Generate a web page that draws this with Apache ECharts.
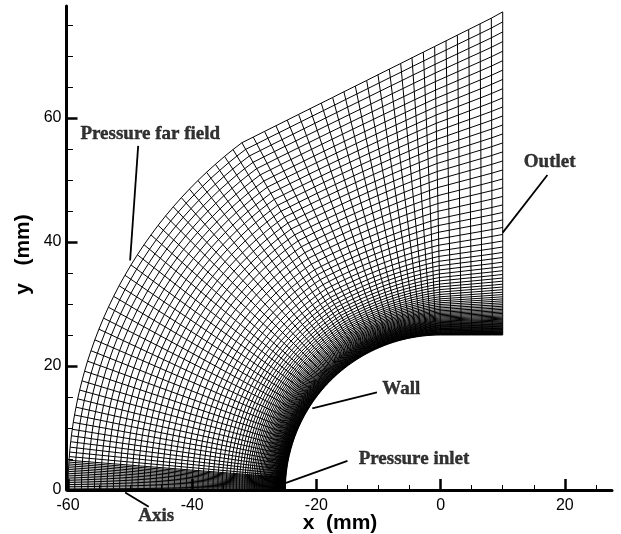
<!DOCTYPE html>
<html><head><meta charset="utf-8">
<style>html,body{margin:0;padding:0;background:#fff}#c{width:621px;height:534px}</style>
<script src="https://cdn.jsdelivr.net/npm/echarts@6/dist/echarts.min.js"></script>
</head><body><div id="c"></div>
<script>
// Mesh stations (mm): far-field / outer boundary end of each radial line
const outerX = [-60,-60,-60,-59.99,-59.99,-59.98,-59.98,-59.97,-59.96,-59.95,-59.94,-59.92,-59.91,-59.89,-59.87,-59.86,-59.84,-59.79,-59.73,-59.66,-59.56,-59.45,-59.31,-59.15,-58.95,-58.71,-58.44,-58.12,-57.75,-57.33,-56.85,-56.3,-55.68,-55.02,-54.28,-53.49,-52.65,-51.77,-50.83,-49.86,-48.83,-47.76,-46.64,-45.49,-44.29,-43.05,-41.75,-40.45,-39.08,-37.69,-36.26,-34.79,-33.43,-32,
 -30.17,-28.35,-26.52,-24.7,-22.87,-21.04,-19.22,-17.39,-15.57,-13.74,-11.91,-10.09,-8.26,-6.43,-4.61,-2.78,-0.96,0.87,2.7,4.52,6.35,8.17,10];
const outerY = [0,0.3,0.6,0.9,1.2,1.5,1.8,2.1,2.4,2.7,3,3.3,3.6,3.9,4.2,4.5,4.8,5.39,6.12,6.91,7.79,8.75,9.79,10.91,12.1,13.36,14.7,16.12,17.6,19.16,20.78,22.46,24.21,25.94,27.72,29.48,31.23,32.94,34.63,36.29,37.93,39.55,41.13,42.68,44.19,45.67,47.14,48.52,49.91,51.24,52.53,53.8,54.9,56,
 56.91,57.83,58.74,59.65,60.57,61.48,62.39,63.3,64.22,65.13,66.04,66.96,67.87,68.78,69.7,70.61,71.52,72.43,73.35,74.26,75.17,76.09,77.1];
// Wall end of each radial line
const wallX = [-25,-25,-25,-25,-25,-24.99,-24.99,-24.98,-24.98,-24.98,-24.97,-24.96,-24.95,-24.95,-24.94,-24.93,-24.92,-24.9,-24.87,-24.83,-24.79,-24.73,-24.67,-24.59,-24.49,-24.38,-24.24,-24.09,-23.91,-23.71,-23.48,-23.22,-22.93,-22.61,-22.26,-21.89,-21.5,-21.09,-20.66,-20.21,-19.74,-19.25,-18.75,-18.23,-17.7,-17.15,-16.58,-16,-15.41,-14.82,-14.2,-13.58,-13,-12.4,
 -11.83,-11.14,-10.45,-9.74,-9.03,-8.31,-7.58,-6.84,-6.1,-5.35,-4.59,-3.83,-3.07,-2.31,-1.54,-0.77,0,1.67,3.33,5,6.67,8.33,10];
const wallY = [0,0.13,0.25,0.38,0.5,0.63,0.75,0.88,1,1.13,1.25,1.38,1.5,1.63,1.75,1.88,2,2.24,2.55,2.88,3.24,3.64,4.07,4.53,5.03,5.55,6.1,6.68,7.29,7.92,8.58,9.26,9.97,10.66,11.37,12.07,12.75,13.42,14.08,14.71,15.34,15.95,16.54,17.11,17.66,18.19,18.71,19.21,19.68,20.14,20.57,20.99,21.35,21.71,
 22.03,22.38,22.71,23.02,23.31,23.58,23.82,24.05,24.24,24.42,24.57,24.7,24.81,24.89,24.95,24.99,25,25,25,25,25,25,25];
// Mesh layer heights read along the outlet (mm above the wall)
const layerHeights = [0,0.08,0.16,0.24,0.32,0.4,0.48,0.58,0.68,0.77,0.87,0.97,1.06,1.16,1.27,1.39,1.5,1.61,1.73,1.85,1.98,2.11,2.24,2.39,2.53,2.69,2.87,3.06,3.26,3.47,3.68,3.9,4.13,4.37,4.63,4.9,5.19,5.5,5.82,6.16,6.52,6.9,7.31,7.74,8.19,8.68,9.19,9.76,10.37,11.03,11.74,12.5,13.31,14.19,15.16,16.21,17.34,18.55,19.76,20.97,22.34,23.74,25.16,26.61,28.06,29.52,30.97,32.42,33.87,35.32,36.77,38.23,39.71,41.21,42.71,44.23,45.76,47.31,48.87,50.48,52.1];

const xTicks = [-60,-40,-20,0,20];
const yTicks = [0,20,40,60];
const xMinor = [-55,-50,-45,-35,-30,-25,-15,-10,-5,5,10,15,25];
const yMinor = [5,10,15,25,30,35,45,50,55,65,70,75];
const xRange = [-60,27.6];
const yRange = [0,78.05];

const noteTexts = ['Pressure far field','Outlet','Wall','Pressure inlet','Axis'];
const noteX = [-58,13.4,-9.4,-13.2,-48.7];
const noteY = [57.4,52.9,16.3,5,-4.2];
const leaderFrom = [[-48.7,55.5],[17.2,50.8],[-10.25,15.76],[-15,4.7],[-50.8,-0.4]];
const leaderTo = [[-50,37],[10,41.5],[-20.66,13.18],[-25,1.1],[-47,-2.7]];

const total = layerHeights[layerHeights.length-1];
const radial = outerX.map((x,i)=>({coords:[[wallX[i],wallY[i]],[x,outerY[i]]]}));
const rings = layerHeights.map(h=>{
  const f=h/total;
  return {coords:outerX.map((x,i)=>[wallX[i]+(x-wallX[i])*f, wallY[i]+(outerY[i]-wallY[i])*f])};
});
const ink='#000';
const fontSans='"Liberation Sans",Arial,sans-serif';
const fontSerif='"Liberation Serif","Times New Roman",serif';

const chart=echarts.init(document.getElementById('c'),null,{renderer:'canvas'});
chart.setOption({
  animation:false,
  backgroundColor:'#fff',
  grid:{left:68,right:9,top:6,bottom:44,containLabel:false,outerBoundsMode:'none'},
  xAxis:{type:'value',min:xRange[0],max:xRange[1],interval:20,
    name:'x  (mm)',nameLocation:'middle',nameGap:23,nameMoveOverlap:false,
    nameTextStyle:{fontFamily:fontSans,fontWeight:'bold',fontSize:21,color:ink},
    axisLine:{show:true,onZero:false,lineStyle:{color:ink,width:3}},
    axisTick:{show:true,inside:true,length:11,customValues:xTicks,lineStyle:{color:ink,width:2.5}},
    axisLabel:{show:true,customValues:xTicks,margin:8,fontFamily:fontSans,fontSize:16,color:ink},
    splitLine:{show:false},minorTick:{show:false},minorSplitLine:{show:false}},
  yAxis:{type:'value',min:yRange[0],max:yRange[1],interval:20,offset:1.5,
    name:'y   (mm)',nameLocation:'middle',nameGap:33,nameMoveOverlap:false,
    nameTextStyle:{fontFamily:fontSans,fontWeight:'bold',fontSize:21,color:ink,padding:[0,13,0,0]},
    axisLine:{show:true,onZero:false,lineStyle:{color:ink,width:3}},
    axisTick:{show:true,inside:true,length:11,customValues:yTicks,lineStyle:{color:ink,width:2.5}},
    axisLabel:{show:true,customValues:yTicks,margin:5,fontFamily:fontSans,fontSize:16,color:ink},
    splitLine:{show:false},minorTick:{show:false},minorSplitLine:{show:false}},
  series:[
    {type:'lines',coordinateSystem:'cartesian2d',polyline:true,silent:true,z:1,
     lineStyle:{color:'#000',width:1,opacity:1},data:radial.concat(rings)},
    {type:'lines',coordinateSystem:'cartesian2d',silent:true,z:3,clip:false,
     lineStyle:{color:ink,width:1.8,opacity:1},
     data:leaderFrom.map((p,i)=>({coords:[p,leaderTo[i]]}))},
    {type:'lines',coordinateSystem:'cartesian2d',silent:true,z:3,clip:false,
     lineStyle:{color:ink,width:1,opacity:1},
     data:xMinor.map(v=>({coords:[[v,0],[v,0.8]]})).concat(yMinor.map(v=>({coords:[[-60,v],[-59.2,v]]})))},
    {type:'scatter',symbolSize:0,silent:true,clip:false,z:4,
     data:noteTexts.map((t,i)=>({value:[noteX[i],noteY[i]],name:t})),
     label:{show:true,position:'right',distance:0,formatter:p=>p.name,
       fontFamily:fontSerif,fontWeight:'bold',fontSize:19,color:ink,textBorderColor:ink,textBorderWidth:0.4}}
  ]
});
</script></body></html>
